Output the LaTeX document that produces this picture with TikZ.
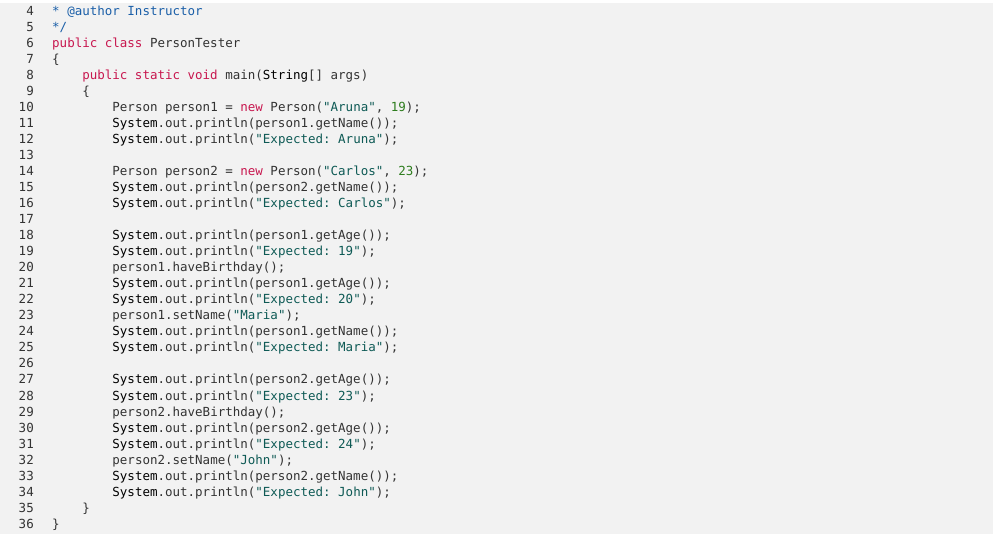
\documentclass[tikz,border=0pt]{standalone}
\usepackage{fontspec}
\setmonofont{DejaVu Sans Mono}
\definecolor{bgcol}{HTML}{F2F2F2}
\definecolor{kwcol}{HTML}{C8174F}
\definecolor{strcol}{HTML}{0E5A55}
\definecolor{numcol}{HTML}{2E7D1E}
\definecolor{cmtcol}{HTML}{1B5FA8}
\definecolor{txtcol}{HTML}{333333}
\newcommand{\kw}[1]{\textcolor{kwcol}{#1}}
\newcommand{\st}[1]{\textcolor{strcol}{#1}}
\newcommand{\nm}[1]{\textcolor{numcol}{#1}}
\newcommand{\cm}[1]{\textcolor{cmtcol}{#1}}
\newcommand{\sy}[1]{\textcolor{black}{#1}}
% one source line: number, indent (columns), text
\newcommand{\codeline}[3]{%
  \node[lineno] (n#1) at (34,{16+(#1-4)*16}) {#1};
  \node[code] (l#1) at ({52+#2*7.53},{16+(#1-4)*16}) {#3};}
\tikzset{
  lineno/.style={anchor=base east, inner sep=0pt, font=\ttfamily\fontsize{12.5}{14}\selectfont, text=txtcol},
  code/.style={anchor=base west, inner sep=0pt, font=\ttfamily\fontsize{12.5}{14}\selectfont, text=txtcol}
}
\begin{document}
\begin{tikzpicture}[x=1pt,y=-1pt]
  \useasboundingbox (0,0) rectangle (993,534);
  \fill[white] (0,0) rectangle (993,534);
  \fill[bgcol] (0,3) rectangle (993,534);

  % header
  \codeline{4}{0}{\cm{ * @author Instructor}}
  \codeline{5}{0}{\cm{ */}}
  \codeline{6}{0}{\kw{public class} PersonTester}
  \codeline{7}{0}{\{}
  \codeline{8}{4}{\kw{public static void} main(\sy{String}[] args)}
  \codeline{9}{4}{\{}

  % body
  \codeline{10}{8}{Person person1 = \kw{new} Person(\st{"Aruna"}, \nm{19});}
  \codeline{11}{8}{\sy{System}.out.println(person1.getName());}
  \codeline{12}{8}{\sy{System}.out.println(\st{"Expected: Aruna"});}
  \codeline{13}{0}{}
  \codeline{14}{8}{Person person2 = \kw{new} Person(\st{"Carlos"}, \nm{23});}
  \codeline{15}{8}{\sy{System}.out.println(person2.getName());}
  \codeline{16}{8}{\sy{System}.out.println(\st{"Expected: Carlos"});}
  \codeline{17}{0}{}
  \codeline{18}{8}{\sy{System}.out.println(person1.getAge());}
  \codeline{19}{8}{\sy{System}.out.println(\st{"Expected: 19"});}
  \codeline{20}{8}{person1.haveBirthday();}
  \codeline{21}{8}{\sy{System}.out.println(person1.getAge());}
  \codeline{22}{8}{\sy{System}.out.println(\st{"Expected: 20"});}
  \codeline{23}{8}{person1.setName(\st{"Maria"});}
  \codeline{24}{8}{\sy{System}.out.println(person1.getName());}
  \codeline{25}{8}{\sy{System}.out.println(\st{"Expected: Maria"});}
  \codeline{26}{0}{}
  \codeline{27}{8}{\sy{System}.out.println(person2.getAge());}
  \codeline{28}{8}{\sy{System}.out.println(\st{"Expected: 23"});}
  \codeline{29}{8}{person2.haveBirthday();}
  \codeline{30}{8}{\sy{System}.out.println(person2.getAge());}
  \codeline{31}{8}{\sy{System}.out.println(\st{"Expected: 24"});}
  \codeline{32}{8}{person2.setName(\st{"John"});}
  \codeline{33}{8}{\sy{System}.out.println(person2.getName());}
  \codeline{34}{8}{\sy{System}.out.println(\st{"Expected: John"});}

  % closing
  \codeline{35}{4}{\}}
  \codeline{36}{0}{\}}
\end{tikzpicture}
\end{document}
